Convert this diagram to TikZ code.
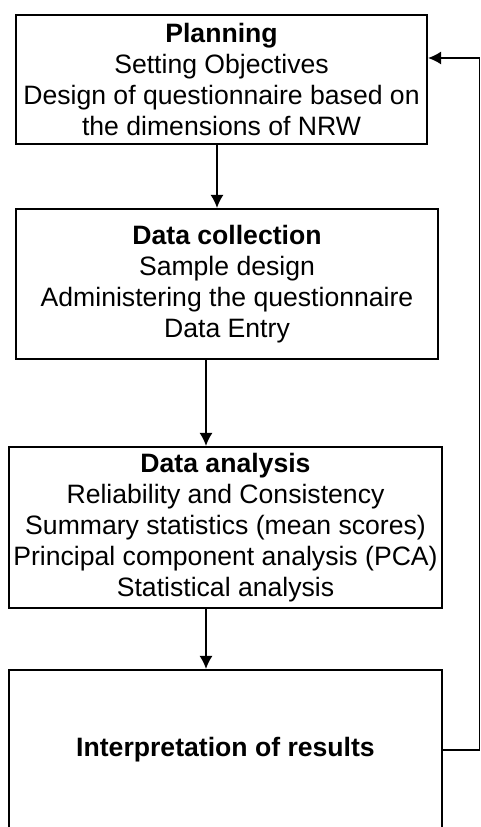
\documentclass[tikz,border=0pt]{standalone}
\usepackage{fontspec}
\setmainfont{Liberation Sans}
\usetikzlibrary{arrows.meta}

\begin{document}
\begin{tikzpicture}
            [
                x=1pt, y=1pt,
                stage/.style={draw, line width=2pt, align=center, inner sep=0pt,
                    font=\fontsize{26.6}{31}\selectfont},
                flow/.style={->, line width=1.8pt},
                >={Latex[length=13pt,width=13pt]}
            ]
            \useasboundingbox (0,0) rectangle (480,827);

            \node[stage, minimum width=411pt, minimum height=129pt] (planning) at (221.5,747.5)
                {\textbf{Planning} \\ Setting Objectives \\ Design of questionnaire based on \\ the dimensions of NRW};
            \node[stage, minimum width=422pt, minimum height=150pt] (collection) at (227,543)
                {\textbf{Data collection} \\ Sample design \\ Administering the questionnaire \\ Data Entry};
            \node[stage, minimum width=433pt, minimum height=161pt] (analysis) at (225.5,299.5)
                {\textbf{Data analysis} \\ Reliability and Consistency \\ Summary statistics (mean scores) \\
                 Principal component analysis (PCA) \\ Statistical analysis};
            \node[stage, minimum width=433pt, minimum height=160pt] (interpretation) at (225.5,77)
                {\textbf{Interpretation of results}};

            \draw[flow] ([xshift=-4.5pt]planning.south) -- ([xshift=-4.5pt]planning.south |- collection.north);
            \draw[flow] ([xshift=-21pt]collection.south) -- ([xshift=-21pt]collection.south |- analysis.north);
            \draw[flow] ([xshift=-19.5pt]analysis.south) -- ([xshift=-19.5pt]analysis.south |- interpretation.north);
            % loop back to planning
            \draw[flow] (interpretation.east) -- ++(36.5pt,0) |- ([yshift=21.5pt]planning.east);
        \end{tikzpicture}
\end{document}
